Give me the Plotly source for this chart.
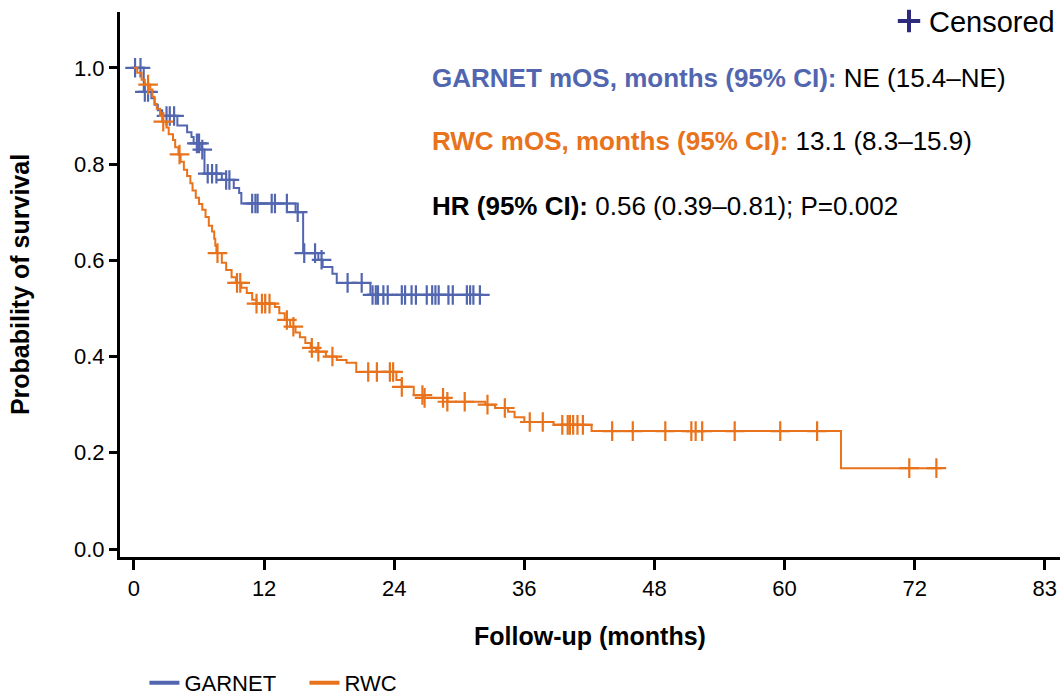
import numpy as np
import plotly.graph_objects as go

# ---- Kaplan–Meier data (months, survival probability after each death) ----
garnet_event_months = [0.9, 1.6, 1.9, 2.2, 2.6, 4.0, 4.9, 5.3, 5.5, 6.2, 6.5, 8.1, 9.2, 9.7,
                       9.9, 14.9, 15.6, 17.0, 17.4, 18.3, 18.7, 21.8]
garnet_event_surv = [0.950, 0.937, 0.923, 0.912, 0.900, 0.880, 0.866, 0.856, 0.843, 0.830,
                     0.780, 0.767, 0.750, 0.740, 0.718, 0.700, 0.615, 0.601, 0.586, 0.572,
                     0.553, 0.528]
garnet_censor_months = [0.1, 0.6, 1.0, 1.3, 3.0, 3.3, 3.7, 5.8, 6.0, 6.3, 6.8, 7.2, 7.6, 8.5,
                        8.8, 10.9, 11.2, 11.4, 12.7, 13.0, 14.1, 15.1, 15.7, 16.7, 17.3, 19.7,
                        21.0, 22.0, 22.3, 22.5, 23.0, 23.4, 24.7, 25.0, 25.6, 26.0, 27.0, 27.5,
                        27.8, 28.1, 29.0, 29.4, 30.7, 31.0, 31.3, 31.9]
garnet_last_followup = 31.9

rwc_event_months = [0.3, 0.7, 1.0, 1.5, 1.7, 1.9, 2.1, 2.4, 2.6, 3.0, 3.2, 3.6, 3.8, 4.1, 4.3,
                    4.6, 4.9, 5.2, 5.4, 5.7, 6.0, 6.3, 6.6, 6.9, 7.2, 7.4, 7.5, 7.6, 8.1, 8.5,
                    9.0, 9.4, 9.9, 10.4, 10.9, 11.3, 13.0, 13.4, 13.9, 14.4, 14.9, 15.3, 15.8,
                    16.3, 16.8, 17.7, 18.7, 19.6, 20.5, 24.2, 24.7, 25.8, 26.7, 28.9, 32.4,
                    33.3, 34.5, 35.1, 36.0, 38.7, 42.2, 65.2]
rwc_event_surv = [0.990, 0.975, 0.965, 0.955, 0.940, 0.925, 0.915, 0.900, 0.888, 0.876, 0.862,
                  0.850, 0.835, 0.820, 0.805, 0.788, 0.775, 0.760, 0.745, 0.730, 0.717, 0.705,
                  0.690, 0.672, 0.660, 0.645, 0.630, 0.615, 0.595, 0.580, 0.565, 0.553, 0.543,
                  0.532, 0.518, 0.510, 0.503, 0.490, 0.476, 0.462, 0.450, 0.440, 0.428, 0.418,
                  0.410, 0.400, 0.393, 0.387, 0.368, 0.351, 0.337, 0.320, 0.314, 0.306, 0.300,
                  0.293, 0.285, 0.274, 0.264, 0.258, 0.245, 0.168]
rwc_censor_months = [1.3, 2.7, 4.2, 7.7, 9.5, 9.8, 11.3, 11.8, 12.1, 12.5, 14.1, 14.7, 16.4,
                     17.0, 18.3, 21.6, 22.4, 23.6, 23.9, 24.7, 26.6, 26.8, 28.5, 28.9, 30.5,
                     32.6, 34.2, 36.5, 37.7, 39.5, 40.0, 40.2, 40.5, 40.9, 41.4, 44.1, 46.0,
                     49.0, 51.4, 51.8, 52.4, 55.4, 59.6, 63.0, 71.5, 74.0]
rwc_last_followup = 74.5

x_tick_vals = [0, 12, 24, 36, 48, 60, 72, 84]
x_tick_text = ["0", "12", "24", "36", "48", "60", "72", "83"]
y_tick_vals = [0.0, 0.2, 0.4, 0.6, 0.8, 1.0]
y_tick_text = ["0.0", "0.2", "0.4", "0.6", "0.8", "1.0"]

BLUE = "#5266B0"
ORANGE = "#E8731C"
NAVY = "#2E2A7C"
FONT = "Arial, Liberation Sans, sans-serif"


def km_value(t, ev_t, ev_s):
    """Survival probability of the step function at time(s) t."""
    idx = np.searchsorted(np.asarray(ev_t), np.asarray(t), side="right")
    ev_s = np.asarray(ev_s)
    return np.where(idx == 0, 1.0, ev_s[np.maximum(idx - 1, 0)])


fig = go.Figure()

for name, ev_t, ev_s, cens, last, color in [
    ("GARNET", garnet_event_months, garnet_event_surv, garnet_censor_months,
     garnet_last_followup, BLUE),
    ("RWC", rwc_event_months, rwc_event_surv, rwc_censor_months,
     rwc_last_followup, ORANGE),
]:
    xs = [0.0] + list(ev_t) + [last]
    ys = [1.0] + list(ev_s) + [ev_s[-1]]
    fig.add_trace(go.Scatter(
        x=xs, y=ys, mode="lines", showlegend=False,
        line=dict(color=color, width=2, shape="hv"), hoverinfo="skip",
    ))
    fig.add_trace(go.Scatter(
        x=cens, y=km_value(cens, ev_t, ev_s), mode="markers", showlegend=False,
        marker=dict(symbol="cross-thin", size=14, line=dict(color=color, width=2.2)),
        hoverinfo="skip",
    ))
    # legend key with a heavier line sample
    fig.add_trace(go.Scatter(
        x=[None], y=[None], mode="lines", name=name, legend="legend",
        line=dict(color=color, width=4),
    ))

# key for the censoring tick marks
fig.add_trace(go.Scatter(
    x=[None], y=[None], mode="markers", name="Censored", legend="legend2",
    marker=dict(symbol="cross-thin", size=17, line=dict(color=NAVY, width=4)),
))

ann_font = dict(family=FONT, size=26, color="black")
fig.add_annotation(
    xref="paper", yref="paper", x=0.33, y=0.879, xanchor="left", yanchor="middle",
    showarrow=False, font=ann_font,
    text=f"<b><span style='color:{BLUE}'>GARNET mOS, months (95% CI):</span></b> NE (15.4–NE)",
)
fig.add_annotation(
    xref="paper", yref="paper", x=0.33, y=0.763, xanchor="left", yanchor="middle",
    showarrow=False, font=ann_font,
    text=f"<b><span style='color:{ORANGE}'>RWC mOS, months (95% CI):</span></b> 13.1 (8.3–15.9)",
)
fig.add_annotation(
    xref="paper", yref="paper", x=0.33, y=0.644, xanchor="left", yanchor="middle",
    showarrow=False, font=ann_font,
    text="<b>HR (95% CI):</b> 0.56 (0.39–0.81); P=0.002",
)

axis_common = dict(
    showline=True, linewidth=3, linecolor="black", mirror=False,
    ticks="outside", tickwidth=3, tickcolor="black",
    showgrid=False, zeroline=False,
    tickfont=dict(family=FONT, size=22, color="black"),
)

fig.update_layout(
    width=1062, height=697,
    margin=dict(l=120, r=2, t=12, b=140, autoexpand=False),
    plot_bgcolor="white", paper_bgcolor="white",
    font=dict(family=FONT, color="black"),
    xaxis=dict(
        range=[-1.29, 85.4], tickvals=x_tick_vals, ticktext=x_tick_text, ticklen=10,
        title=dict(text="<b>Follow-up (months)</b>", font=dict(family=FONT, size=25),
                   standoff=28),
        **axis_common,
    ),
    yaxis=dict(
        range=[-0.0166, 1.116], tickvals=y_tick_vals, ticktext=y_tick_text, ticklen=8,
        title=dict(text="<b>Probability of survival</b>", font=dict(family=FONT, size=25),
                   standoff=38),
        **axis_common,
    ),
    legend=dict(
        orientation="h", x=0.026, y=-0.231, xanchor="left", yanchor="middle",
        font=dict(family=FONT, size=22), bgcolor="rgba(0,0,0,0)",
        itemwidth=30, entrywidth=115,
    ),
    legend2=dict(
        x=1.0, y=1.03, xanchor="right", yanchor="top",
        font=dict(family=FONT, size=29), bgcolor="rgba(0,0,0,0)",
    ),
)

fig.write_html("out.html")
